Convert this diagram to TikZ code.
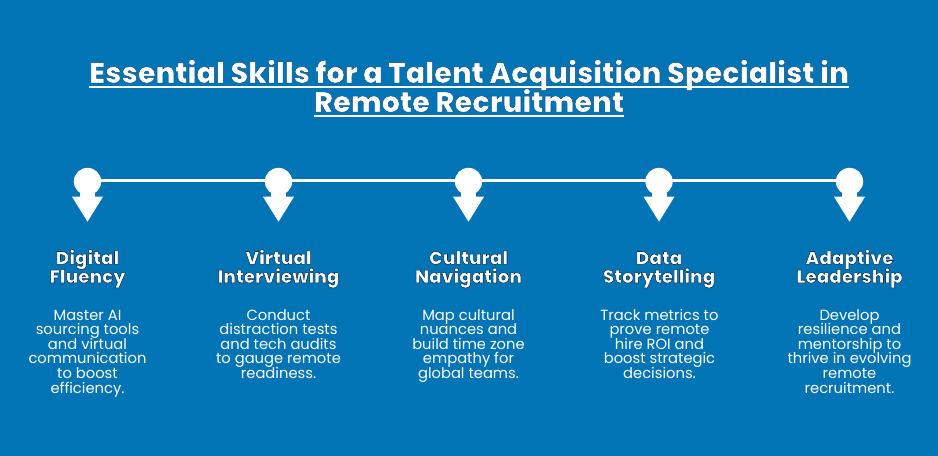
\documentclass[tikz,border=0pt]{standalone}
\usepackage{fontspec}
\setmainfont{Poppins}[BoldFont={Poppins ExtraBold}]
\definecolor{bgblue}{HTML}{0074B5}
\newcommand{\headstroke}{\special{pdf:code 2 Tr 0.42 w 0.03 0.2 0.33 RG}}
\newcommand{\titlestroke}{\special{pdf:code 2 Tr 0.35 w 0.05 0.3 0.47 RG}}
\newcommand{\tightlines}{\lineskiplimit -100pt\relax}
\tikzset{
  x=0.75pt,y=-0.75pt,
  dot/.style={circle,fill=white,minimum size=20.5pt,inner sep=0pt},
  tip/.style={fill=white,draw=none},
  headnode/.style={text=white,align=center,inner sep=0pt,anchor=base,font=\fontsize{13.8}{13.9}\selectfont\bfseries\tightlines},
  bodynode/.style={text=white,align=center,inner sep=0pt,anchor=base,font=\fontsize{11.05}{10.95}\selectfont\tightlines},
  titlenode/.style={text=white,align=center,inner sep=0pt,anchor=base,font=\fontsize{21.64}{22.3}\selectfont\bfseries},
}
\begin{document}
\begin{tikzpicture}
\useasboundingbox (0,0) rectangle (938,456);
\fill[bgblue] (0,0) rectangle (938,456);
\node[titlenode] (t1) at (469,83) {\titlestroke Essential Skills for a Talent Acquisition Specialist in};
\node[titlenode] (t2) at (469,112.2) {\titlestroke Remote Recruitment};
\fill[white] (89,85.8) rectangle (849,87.8);
\fill[white] (314,115.1) rectangle (624,117.1);
\foreach \n/\x in {a/87.5,b/278.5,c/468.5,d/659,e/849.5}{
  \node[dot] (\n) at (\x,181.5) {};
  \fill[tip] (\x-15.5,196.7) -- (\x+15.5,196.7) -- (\x+0,221.7) -- cycle;
  \fill[white] (\x-7.5,190) rectangle (\x+7.5,198);
}
\coordinate (la) at ([yshift=0.75pt]a.center);
\coordinate (le) at ([yshift=0.75pt]e.center);
\draw[white,line width=2.3pt] (la) -- (le);
\node[headnode] (h1) at (87.5,283) {\headstroke Digital\\\headstroke Fluency};
\node[headnode] (h2) at (278.5,283) {\headstroke Virtual\\\headstroke Interviewing};
\node[headnode] (h3) at (468.5,283) {\headstroke Cultural\\\headstroke Navigation};
\node[headnode] (h4) at (659,283) {\headstroke Data\\\headstroke Storytelling};
\node[headnode] (h5) at (849.5,283) {\headstroke Adaptive\\\headstroke Leadership};
\node[bodynode] (b1) at (87.5,393) {\special{pdf:code 0 Tr}Master AI\\sourcing tools\\and virtual\\communication\\to boost\\efficiency.};
\node[bodynode] (b2) at (278.5,378.4) {Conduct\\distraction tests\\and tech audits\\to gauge remote\\readiness.};
\node[bodynode] (b3) at (468.5,378.4) {Map cultural\\nuances and\\build time zone\\empathy for\\global teams.};
\node[bodynode] (b4) at (659.5,378.4) {Track metrics to\\prove remote\\hire ROI and\\boost strategic\\decisions.};
\node[bodynode] (b5) at (849.5,393) {Develop\\resilience and\\mentorship to\\thrive in evolving\\remote\\recruitment.};
\end{tikzpicture}
\end{document}
